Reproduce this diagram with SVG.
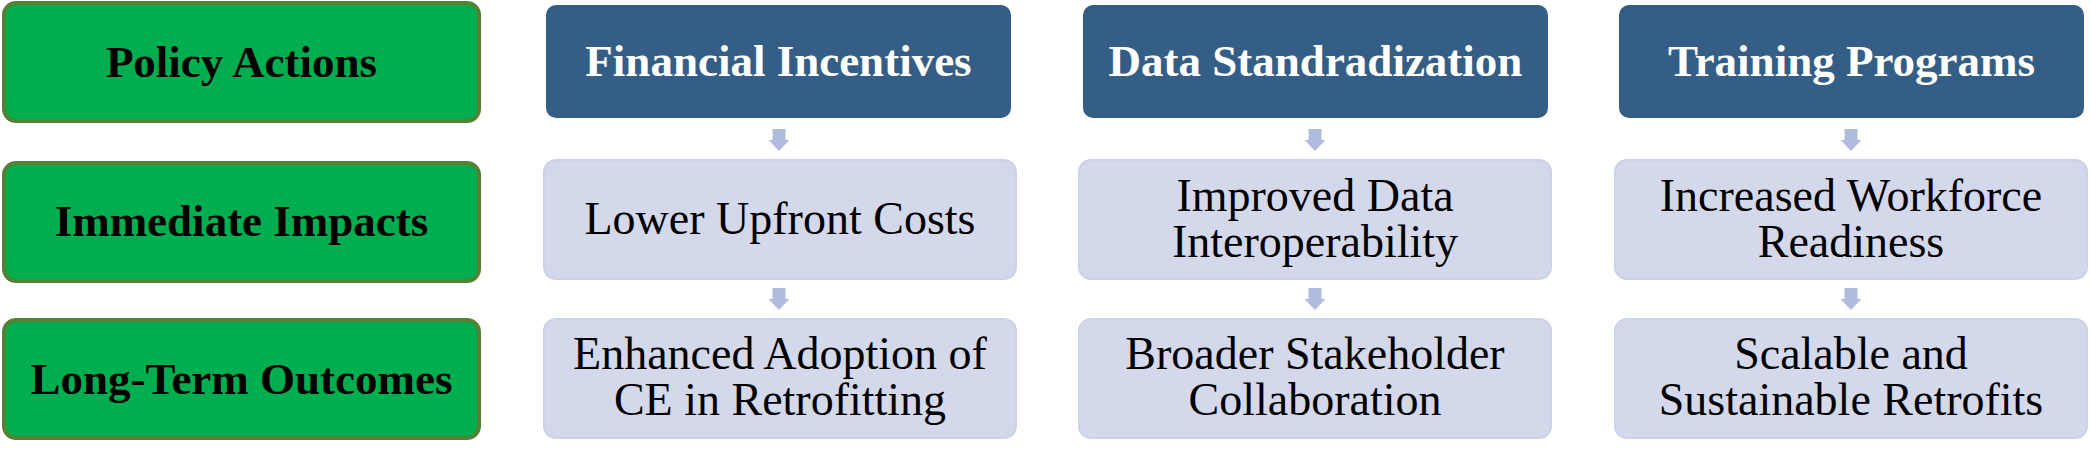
<svg xmlns="http://www.w3.org/2000/svg" width="2091" height="453" viewBox="0 0 2091 453">
<defs>
<style>
.bg{fill:#ffffff}
.cat rect{fill:#00AE50;stroke:#548235;stroke-width:4}
.cat text{font-family:"Liberation Serif","Times New Roman",serif;font-weight:bold;font-size:45px;fill:#000000;text-anchor:middle}
.pol rect{fill:#355E86}
.pol text{font-family:"Liberation Serif","Times New Roman",serif;font-weight:bold;font-size:45px;fill:#ffffff;text-anchor:middle}
.imp rect{fill:#D3D8EB;stroke:#CCD2E8;stroke-width:2}
.imp text{font-family:"Liberation Serif","Times New Roman",serif;font-size:46px;fill:#000000;text-anchor:middle}
.arr{fill:#AEBBDF}
</style>
<path id="arrow" d="M-6.5,0 H6.5 V11 H10.5 L0,22 L-10.5,11 H-6.5 Z"/>
</defs>
<rect class="bg" x="0" y="0" width="2091" height="453"/>

<g id="connectors" class="arr">
<use href="#arrow" x="779" y="129"/>
<use href="#arrow" x="779" y="288"/>
<use href="#arrow" x="1315" y="129"/>
<use href="#arrow" x="1315" y="288"/>
<use href="#arrow" x="1851" y="129"/>
<use href="#arrow" x="1851" y="288"/>
</g>

<g id="policy-actions" class="cat"><rect x="4" y="3" width="475" height="118" rx="12"/><text x="241.5" y="77">Policy Actions</text></g>
<g id="immediate-impacts" class="cat"><rect x="4" y="163" width="475" height="118" rx="12"/><text x="241.5" y="236">Immediate Impacts</text></g>
<g id="long-term-outcomes" class="cat"><rect x="4" y="320" width="475" height="118" rx="12"/><text x="241.5" y="394">Long-Term Outcomes</text></g>

<g id="financial-incentives" class="pol"><rect x="546" y="5" width="465" height="113" rx="10"/><text x="778.5" y="76">Financial Incentives</text></g>
<g id="data-standradization" class="pol"><rect x="1083" y="5" width="465" height="113" rx="10"/><text x="1315.5" y="76">Data Standradization</text></g>
<g id="training-programs" class="pol"><rect x="1619" y="5" width="465" height="113" rx="10"/><text x="1851.5" y="76">Training Programs</text></g>

<g id="lower-upfront-costs" class="imp"><rect x="544" y="160" width="472" height="119" rx="12"/><text x="780" y="234">Lower Upfront Costs</text></g>
<g id="improved-data-interoperability" class="imp"><rect x="1079" y="160" width="472" height="119" rx="12"/><text x="1315" y="211">Improved Data</text><text x="1315" y="257">Interoperability</text></g>
<g id="increased-workforce-readiness" class="imp"><rect x="1615" y="160" width="472" height="119" rx="12"/><text x="1851" y="211">Increased Workforce</text><text x="1851" y="257">Readiness</text></g>

<g id="enhanced-adoption" class="imp"><rect x="544" y="319" width="472" height="119" rx="12"/><text x="780" y="369">Enhanced Adoption of</text><text x="780" y="415">CE in Retrofitting</text></g>
<g id="broader-stakeholder-collaboration" class="imp"><rect x="1079" y="319" width="472" height="119" rx="12"/><text x="1315" y="369">Broader Stakeholder</text><text x="1315" y="415">Collaboration</text></g>
<g id="scalable-sustainable-retrofits" class="imp"><rect x="1615" y="319" width="472" height="119" rx="12"/><text x="1851" y="369">Scalable and</text><text x="1851" y="415">Sustainable Retrofits</text></g>
</svg>
